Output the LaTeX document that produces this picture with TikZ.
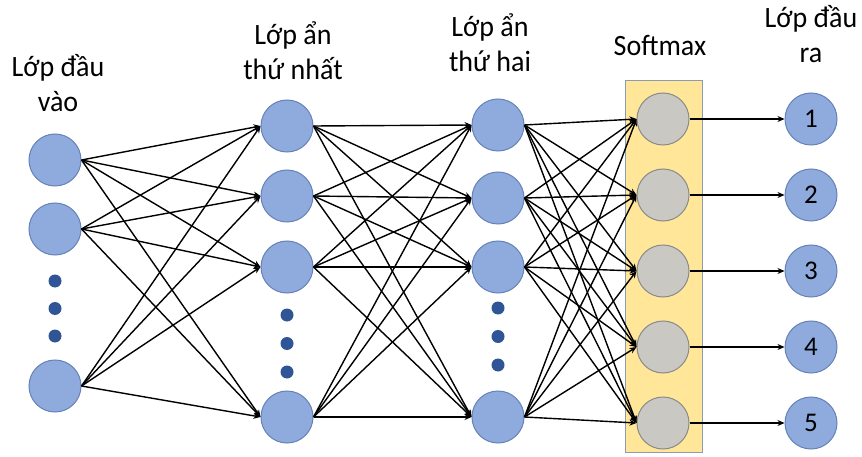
\documentclass[tikz,border=0pt]{standalone}
\usepackage{fontspec}
\setmainfont{Carlito}
\newfontfamily\layerfont[FakeStretch=0.95]{Carlito}
\usetikzlibrary{arrows.meta}
\definecolor{nodeblue}{HTML}{8FAADC}
\definecolor{nodeline}{HTML}{6682B8}
\definecolor{dotblue}{HTML}{2F5597}
\definecolor{nodegray}{HTML}{C9C8C2}
\definecolor{grayline}{HTML}{8A8A8A}
\definecolor{boxyellow}{HTML}{FFE699}
\definecolor{boxline}{HTML}{8A9BB2}
\begin{document}
\begin{tikzpicture}
            [x=1pt, y=-1pt,
             neuron/.style = {circle, draw=nodeline, fill=nodeblue, line width=1pt, minimum size=52pt, inner sep=0pt, font=\fontsize{27}{30}\selectfont},
             smax/.style = {neuron, draw=grayline, fill=nodegray},
             dot/.style = {circle, fill=dotblue, inner sep=0pt, minimum size=13pt},
             conn/.style = {-{Stealth[length=7pt, width=6pt]}, line width=1.4pt},
             layertext/.style = {align=center, anchor=base, font=\layerfont\fontsize{29.5}{35}\selectfont}]
            \useasboundingbox[fill=white] (0,0) rectangle (862,457);
            \node[draw=boxline, fill=boxyellow, line width=1pt, minimum width=77pt, minimum height=371pt, inner sep=0pt] (box) at (663.5,266.5) {};
            % labels (base = last line)
            \node[layertext] (tin) at (58,112) {Lớp đầu\\vào};
            \node[layertext] (th1) at (293,80) {Lớp ẩn\\thứ nhất};
            \node[layertext] (th2) at (490,72) {Lớp ẩn\\thứ hai};
            \node[layertext] (tsm) at (660,56) {Softmax};
            \node[layertext] (tout) at (811,63) {Lớp đầu\\ra};
            % input layer
            \node[neuron] (i1) at (55,160) {};
            \node[neuron] (i2) [below of=i1, node distance=69pt] {};
            \node[dot] (id1) [below of=i2, node distance=52pt] {};
            \node[dot] (id2) [below of=id1, node distance=27.5pt] {};
            \node[dot] (id3) [below of=id2, node distance=27.5pt] {};
            \node[neuron] (i3) [below of=i2, node distance=157pt] {};
            % first hidden layer
            \node[neuron] (a1) at (287,126) {};
            \node[neuron] (a2) [below of=a1, node distance=70pt] {};
            \node[neuron] (a3) [below of=a2, node distance=71pt] {};
            \node[dot] (ad1) [below of=a3, node distance=48pt] {};
            \node[dot] (ad2) [below of=ad1, node distance=28.5pt] {};
            \node[dot] (ad3) [below of=ad2, node distance=28.5pt] {};
            \node[neuron] (a4) [below of=a3, node distance=150pt] {};
            % second hidden layer
            \node[neuron] (b1) at (498,125) {};
            \node[neuron] (b2) [below of=b1, node distance=73pt] {};
            \node[neuron] (b3) [below of=b2, node distance=69pt] {};
            \node[dot] (bd1) [below of=b3, node distance=41pt] {};
            \node[dot] (bd2) [below of=bd1, node distance=28.5pt] {};
            \node[dot] (bd3) [below of=bd2, node distance=28.5pt] {};
            \node[neuron] (b4) [below of=b3, node distance=150pt] {};
            % softmax
            \node[smax] (s1) at (663,119) {};
            \node[smax] (s2) [below of=s1, node distance=76pt] {};
            \node[smax] (s3) [below of=s2, node distance=76pt] {};
            \node[smax] (s4) [below of=s3, node distance=76pt] {};
            \node[smax] (s5) [below of=s4, node distance=76pt] {};
            % output layer
            \node[neuron] (o1) at (811,119) {1};
            \node[neuron] (o2) [below of=o1, node distance=76pt] {2};
            \node[neuron] (o3) [below of=o2, node distance=76pt] {3};
            \node[neuron] (o4) [below of=o3, node distance=76pt] {4};
            \node[neuron] (o5) [below of=o4, node distance=76pt] {5};
            % input -> first hidden
            \draw[conn] (i1.east) -- (a1.west);
            \draw[conn] (i1.east) -- (a2.west);
            \draw[conn] (i1.east) -- (a3.west);
            \draw[conn] (i1.east) -- (a4.west);
            \draw[conn] (i2.east) -- (a1.west);
            \draw[conn] (i2.east) -- (a2.west);
            \draw[conn] (i2.east) -- (a3.west);
            \draw[conn] (i2.east) -- (a4.west);
            \draw[conn] (i3.east) -- (a1.west);
            \draw[conn] (i3.east) -- (a2.west);
            \draw[conn] (i3.east) -- (a3.west);
            \draw[conn] (i3.east) -- (a4.west);
            % first hidden -> second hidden
            \draw[conn] (a1.east) -- (b1.west);
            \draw[conn] (a1.east) -- (b2.west);
            \draw[conn] (a1.east) -- (b3.west);
            \draw[conn] (a1.east) -- (b4.west);
            \draw[conn] (a2.east) -- (b1.west);
            \draw[conn] (a2.east) -- (b2.west);
            \draw[conn] (a2.east) -- (b3.west);
            \draw[conn] (a2.east) -- (b4.west);
            \draw[conn] (a3.east) -- (b1.west);
            \draw[conn] (a3.east) -- (b2.west);
            \draw[conn] (a3.east) -- (b3.west);
            \draw[conn] (a3.east) -- (b4.west);
            \draw[conn] (a4.east) -- (b1.west);
            \draw[conn] (a4.east) -- (b2.west);
            \draw[conn] (a4.east) -- (b3.west);
            \draw[conn] (a4.east) -- (b4.west);
            % second hidden -> softmax
            \draw[conn] (b1.east) -- (s1.west);
            \draw[conn] (b1.east) -- (s2.west);
            \draw[conn] (b1.east) -- (s3.west);
            \draw[conn] (b1.east) -- (s4.west);
            \draw[conn] (b1.east) -- (s5.west);
            \draw[conn] (b2.east) -- (s1.west);
            \draw[conn] (b2.east) -- (s2.west);
            \draw[conn] (b2.east) -- (s3.west);
            \draw[conn] (b2.east) -- (s4.west);
            \draw[conn] (b2.east) -- (s5.west);
            \draw[conn] (b3.east) -- (s1.west);
            \draw[conn] (b3.east) -- (s2.west);
            \draw[conn] (b3.east) -- (s3.west);
            \draw[conn] (b3.east) -- (s4.west);
            \draw[conn] (b3.east) -- (s5.west);
            \draw[conn] (b4.east) -- (s1.west);
            \draw[conn] (b4.east) -- (s2.west);
            \draw[conn] (b4.east) -- (s3.west);
            \draw[conn] (b4.east) -- (s4.west);
            \draw[conn] (b4.east) -- (s5.west);
            % softmax -> output
            \draw[conn] (s1.east) -- (o1.west);
            \draw[conn] (s2.east) -- (o2.west);
            \draw[conn] (s3.east) -- (o3.west);
            \draw[conn] (s4.east) -- (o4.west);
            \draw[conn] (s5.east) -- (o5.west);
        \end{tikzpicture}
\end{document}
